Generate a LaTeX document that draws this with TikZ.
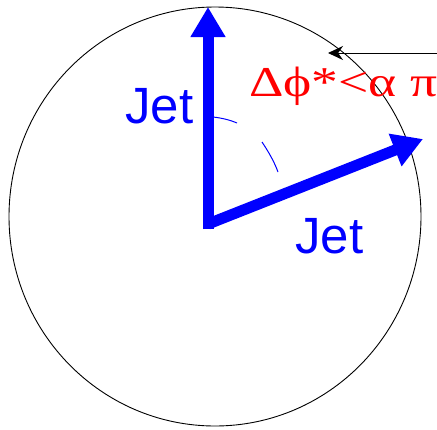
\documentclass[tikz,border=0pt]{standalone}
\usepackage{fontspec}
\setmainfont{Liberation Serif}
\newfontfamily\jetfont{Liberation Sans}
\usetikzlibrary{arrows.meta}
\tikzset{
  jetarrow/.style={draw={rgb,255:red,0;green,0;blue,255}, line width=11pt, -{Triangle[length=30pt,width=33pt]}},
  jetlabel/.style={text={rgb,255:red,0;green,0;blue,255}, font=\jetfont\fontsize{51}{51}\selectfont, inner sep=0pt, anchor=base west},
  redlabel/.style={text={rgb,255:red,255;green,0;blue,0}, inner sep=0pt, anchor=base west},
  anglearc/.style={draw={rgb,255:red,0;green,0;blue,255}, line width=1pt},
  pointer/.style={draw=black, line width=1pt, -{Stealth[length=15pt,width=14pt]}}
}
\begin{document}
\begin{tikzpicture}[x=1pt,y=-1pt]
\useasboundingbox (0,0) rectangle (437,429);
\fill[white] (0,0) rectangle (437,429);
\draw[black, line width=0.9pt] (215,216.5) ellipse [x radius=206, y radius=209.5];
\coordinate (o) at (208,224);
\coordinate (j1) at (208,7);
\coordinate (j2) at (423,139);
\draw[jetarrow, line cap=butt] (208,229) -- (j1);
\draw[jetarrow] (o) -- (j2);
\coordinate (a1) at (213,117);
\coordinate (a2) at (237,123);
\coordinate (a3) at (262,142);
\coordinate (a4) at (278,172);
\draw[anglearc] (a1) .. controls (222,118) and (230,120) .. (a2);
\draw[anglearc] (a3) .. controls (268,151) and (274,161) .. (a4);
\node[jetlabel] (jetA) at (125,123) {Jet};
\node[jetlabel] (jetB) at (295,253) {Jet};
\node[redlabel] (dphi) at (249,96) {\scalebox{1.26}[1]{\fontsize{42.5}{42.5}\selectfont Δϕ*<α π}};
\coordinate (ps) at (437,53);
\coordinate (pe) at (328,53);
\draw[pointer] (ps) -- (pe);
\end{tikzpicture}
\end{document}
